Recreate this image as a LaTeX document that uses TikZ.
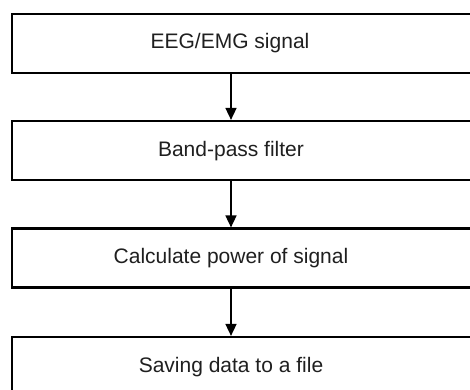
\documentclass[tikz,border=0pt]{standalone}
\usepackage{fontspec}
\setmainfont{Liberation Sans}
\usetikzlibrary{arrows.meta}
\begin{document}
\begin{tikzpicture}[x=1pt,y=-1pt,
  stepbox/.style={draw=black,line width=2.2pt,minimum width=472pt,minimum height=59pt,inner sep=0pt},
  lbl/.style={font=\fontsize{21}{25}\selectfont,text=black!88,inner sep=0pt},
  flow/.style={line width=1.6pt,-{Triangle[length=12pt,width=11pt]}}]
\useasboundingbox (0,0) rectangle (470,389);
\clip (0,0) rectangle (470,389);
\node[stepbox] (b1) at (248,43.5) {};
\node[stepbox] (b2) at (248,150.5) {};
\node[stepbox] (b3) at (248,258) {};
\node[stepbox] (b4) at (248,366.5) {};
\node[lbl] (t1) at (230,43.5) {EEG/EMG signal};
\node[lbl] (t2) at (231,151) {Band-pass filter};
\node[lbl] (t3) at (231,258.5) {Calculate power of signal};
\node[lbl] (t4) at (231,367) {Saving data to a file};
\draw[flow] (t2 |- b1.south) -- (t2 |- b2.north);
\draw[flow] (t2 |- b2.south) -- (t2 |- b3.north);
\draw[flow] (t2 |- b3.south) -- (t2 |- b4.north);
\end{tikzpicture}
\end{document}
